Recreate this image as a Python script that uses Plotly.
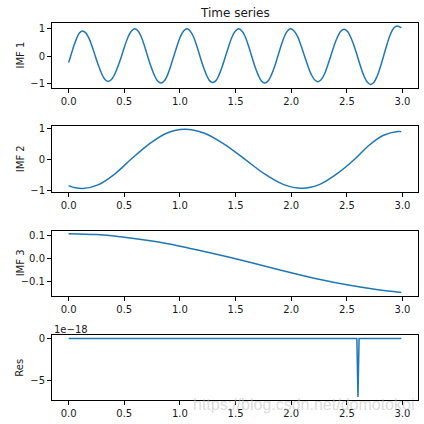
import plotly.graph_objects as go

# values
imf1_x = [0.000, 0.018, 0.045, 0.072, 0.098, 0.125,
          0.154, 0.183, 0.211, 0.240, 0.269, 0.298, 0.326, 0.355,
          0.385, 0.415, 0.445, 0.475, 0.505, 0.535, 0.565, 0.595,
          0.624, 0.652, 0.681, 0.710, 0.740, 0.770, 0.800, 0.830,
          0.859, 0.888, 0.916, 0.945, 0.975, 1.004, 1.033, 1.063,
          1.092, 1.122, 1.151, 1.180, 1.209, 1.238, 1.266, 1.295,
          1.324, 1.352, 1.381, 1.410, 1.440, 1.469, 1.499, 1.528,
          1.557, 1.587, 1.616, 1.645, 1.674, 1.704, 1.733, 1.762,
          1.792, 1.821, 1.851, 1.880, 1.909, 1.938, 1.966, 1.995,
          2.026, 2.058, 2.089, 2.120, 2.150, 2.180, 2.210, 2.240,
          2.269, 2.298, 2.326, 2.355, 2.385, 2.415, 2.445, 2.475,
          2.505, 2.535, 2.565, 2.595, 2.625, 2.655, 2.685, 2.715,
          2.744, 2.772, 2.801, 2.830, 2.860, 2.890, 2.920, 2.950,
          2.990]
imf1_y = [-0.23, 0.00, 0.35, 0.65, 0.85, 0.92,
          0.85, 0.65, 0.35, 0.00, -0.35, -0.65, -0.85, -0.92,
          -0.85, -0.65, -0.35, 0.00, 0.38, 0.71, 0.92, 1.00,
          0.92, 0.71, 0.38, 0.00, -0.375, -0.69, -0.905, -0.98,
          -0.905, -0.69, -0.375, 0.00, 0.38, 0.71, 0.92, 1.00,
          0.92, 0.71, 0.38, 0.00, -0.37, -0.68, -0.89, -0.96,
          -0.89, -0.68, -0.37, 0.00, 0.38, 0.71, 0.92, 1.00,
          0.92, 0.71, 0.38, 0.00, -0.375, -0.69, -0.905, -0.98,
          -0.905, -0.69, -0.375, 0.00, 0.38, 0.71, 0.92, 1.00,
          0.92, 0.71, 0.38, 0.00, -0.355, -0.66, -0.86, -0.93,
          -0.86, -0.66, -0.355, 0.00, 0.375, 0.69, 0.905, 0.98,
          0.905, 0.69, 0.375, 0.00, -0.395, -0.73, -0.95, -1.03,
          -0.95, -0.73, -0.395, 0.00, 0.42, 0.78, 1.02, 1.10,
          1.04]

imf2_x = [0.00, 0.06, 0.125, 0.27, 0.415, 0.56, 0.72, 0.88, 1.04, 1.22, 1.40,
          1.585, 1.757, 1.928, 2.10, 2.257, 2.413, 2.57, 2.70, 2.83, 2.96, 2.99]
imf2_y = [-0.84, -0.91, -0.935, -0.81, -0.47, 0.00, 0.48, 0.835, 0.965, 0.835,
          0.48, 0.00, -0.46, -0.80, -0.925, -0.80, -0.46, 0.00, 0.45, 0.77,
          0.89, 0.885]

imf3_x = [0.00, 0.25, 0.50, 0.75, 1.00, 1.25, 1.50, 1.75, 2.00, 2.25, 2.50,
          2.75, 2.99]
imf3_y = [0.106, 0.102, 0.091, 0.074, 0.052, 0.026, -0.002, -0.032, -0.062,
          -0.090, -0.114, -0.133, -0.147]

res_x = [0.00, 2.59, 2.60, 2.61, 2.99]
res_y = [0.0, 0.0, -6.93e-18, 0.0, 0.0]

x_ticks = [0.0, 0.5, 1.0, 1.5, 2.0, 2.5, 3.0]
x_ticktext = ["0.0", "0.5", "1.0", "1.5", "2.0", "2.5", "3.0"]

panels = [
    ("IMF 1", imf1_x, imf1_y, "spline", [-1.17, 1.22], [-1, 0, 1], ["\u22121", "0", "1"]),
    ("IMF 2", imf2_x, imf2_y, "spline", [-1.055, 1.065], [-1, 0, 1], ["\u22121", "0", "1"]),
    ("IMF 3", imf3_x, imf3_y, "spline", [-0.161, 0.1175], [-0.1, 0.0, 0.1],
     ["\u22120.1", "0.0", "0.1"]),
    ("Res", res_x, res_y, "linear", [-7.28e-18, 0.39e-18], [-5e-18, 0.0], ["\u22125", "0"]),
]

W = H = 424
frames = [(22.7, 88.3), (126.0, 192.3), (231.0, 295.7), (335.3, 400.0)]
x_dom = [52 / W, 418 / W]
COLOR = "#1f77b4"
TXT = "#1a1a1a"

fig = go.Figure()
annotations = []
for i, (label, xs, ys, shape, yr, tv, tt) in enumerate(panels):
    n = "" if i == 0 else str(i + 1)
    fig.add_trace(go.Scatter(
        x=xs, y=ys, mode="lines",
        line=dict(color=COLOR, width=1.5, shape=shape, smoothing=1.0),
        xaxis="x" + n, yaxis="y" + n, showlegend=False,
    ))
    top, bot = frames[i]
    axis_common = dict(
        showline=True, mirror=True, linecolor="black", linewidth=1,
        ticks="outside", ticklen=4, tickwidth=1, tickcolor="black",
        showgrid=False, zeroline=False, automargin=False,
        tickfont=dict(family="DejaVu Sans", size=10, color=TXT),
    )
    fig.update_layout({
        "xaxis" + n: dict(
            domain=x_dom, range=[-0.1495, 3.1395], anchor="y" + n,
            tickvals=x_ticks, ticktext=x_ticktext, **axis_common,
        ),
        "yaxis" + n: dict(
            domain=[1 - bot / H, 1 - top / H], range=yr, anchor="x" + n,
            tickvals=tv, ticktext=tt, **axis_common,
        ),
    })
    annotations.append(dict(
        text=label, textangle=-90, xref="paper", yref="paper",
        x=20 / W, y=1 - (top + bot) / 2 / H, showarrow=False,
        font=dict(family="DejaVu Sans", size=10, color=TXT),
        xanchor="center", yanchor="middle",
    ))

annotations.append(dict(
    text="Time series", xref="paper", yref="paper", x=235 / W, y=1 - 13 / H,
    showarrow=False, xanchor="center", yanchor="middle",
    font=dict(family="DejaVu Sans", size=12, color=TXT),
))
annotations.append(dict(
    text="1e\u221218", xref="paper", yref="paper", x=52 / W, y=1 - 329 / H,
    showarrow=False, xanchor="left", yanchor="middle",
    font=dict(family="DejaVu Sans", size=10, color=TXT),
))
annotations.append(dict(
    text="https://blog.csdn.net/domotokoi", xref="paper", yref="paper",
    x=416 / W, y=1 - 404 / H, showarrow=False, xanchor="right", yanchor="middle",
    font=dict(family="Liberation Sans", size=16, color="rgba(190,190,190,0.55)"),
))

fig.update_layout(
    width=W, height=H,
    margin=dict(l=0, r=0, t=0, b=0),
    paper_bgcolor="white", plot_bgcolor="white",
    annotations=annotations,
)

# drop the browser's default body margin so the 424px figure fills the window
fig.write_html(
    "out.html",
    config={"displayModeBar": False},
    post_script="document.body.style.margin='0';",
)
